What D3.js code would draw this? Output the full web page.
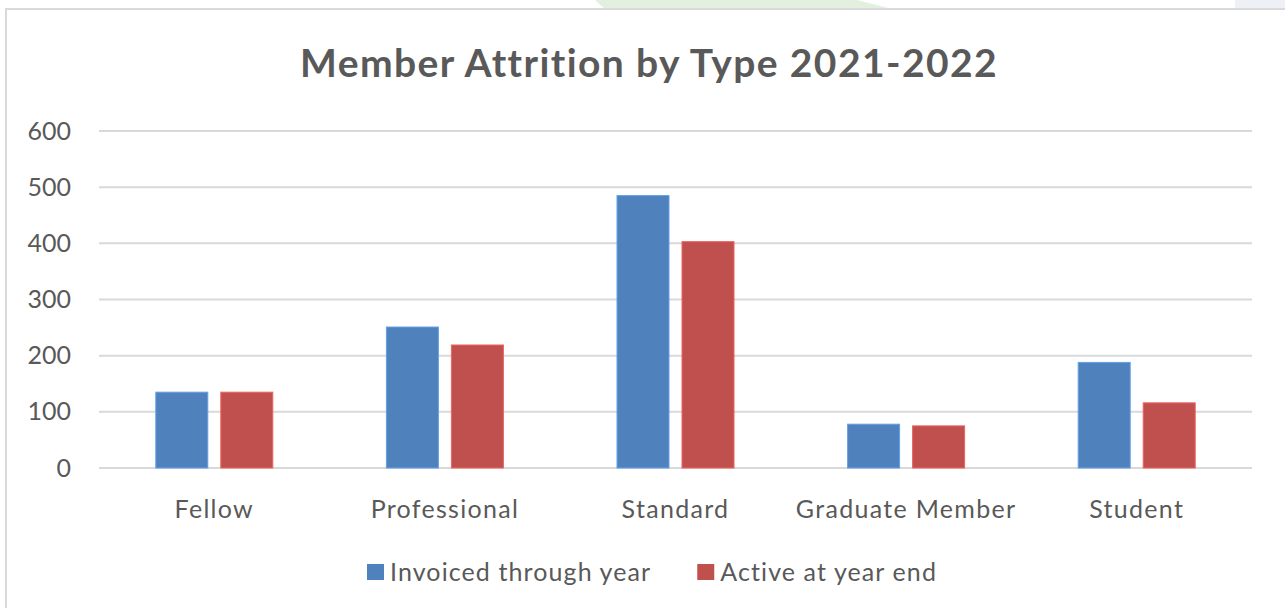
<!DOCTYPE html>
<html lang="en">
<head>
  <meta charset="utf-8">
  <script src="https://d3js.org/d3.v7.min.js"></script>
  <title>Member Attrition by Type 2021-2022</title>
  <style>
    body { margin: 0; background: #fff; }
    text { font-family: Lato, "Open Sans", sans-serif; fill: #595959; }
  </style>
</head>
<body>
<div id="chart"></div>
<script>
  // data
  const categories = ["Fellow", "Professional", "Standard", "Graduate Member", "Student"];
  const seriesNames = ["Invoiced through year", "Active at year end"];
  const invoiced = [135, 251, 485, 78, 188];
  const active = [135, 219, 403, 75, 116];
  const yTicks = [0, 100, 200, 300, 400, 500, 600];
  const colors = ["#4f81bd", "#c0504d"];

  const W = 1285, H = 608;
  const margin = { top: 131, right: 33, bottom: 140, left: 99 },
    width = W - margin.left - margin.right,
    height = H - margin.top - margin.bottom;

  const svg = d3.select("#chart")
    .append("svg")
    .attr("width", W)
    .attr("height", H);

  // background bits above the chart box
  svg.append("polygon")
    .attr("points", "595,0 857,0 892,9 605,9")
    .style("fill", "#e3efdf");
  svg.append("rect")
    .attr("x", 1235).attr("y", 0).attr("width", 50).attr("height", 8)
    .style("fill", "#eef0f5");

  // chart box border
  svg.append("rect")
    .attr("x", 6).attr("y", 9).attr("width", W + 10).attr("height", H + 10)
    .style("fill", "#fff")
    .style("stroke", "#d9d9d9")
    .style("stroke-width", 2);

  // title
  svg.append("text")
    .attr("x", 649)
    .attr("y", 77)
    .attr("text-anchor", "middle")
    .style("font-size", "39px")
    .style("font-weight", "bold")
    .style("letter-spacing", "1.4px")
    .text("Member Attrition by Type 2021-2022");

  const g = svg.append("g")
    .attr("transform", `translate(${margin.left},${margin.top})`);

  // scales
  const x0 = d3.scaleBand()
    .domain(categories)
    .range([0, width])
    .paddingInner(0.4926)
    .paddingOuter(0.2463);

  const x1 = d3.scaleBand()
    .domain(seriesNames)
    .range([0, x0.bandwidth()])
    .paddingInner(0.2);

  const y = d3.scaleLinear()
    .domain([0, 600])
    .range([height, 0]);

  // gridlines
  g.append("g")
    .selectAll("line")
    .data(yTicks)
    .join("line")
    .attr("x1", 0)
    .attr("x2", width)
    .attr("y1", d => y(d))
    .attr("y2", d => y(d))
    .style("stroke", "#d9d9d9")
    .style("stroke-width", 2);

  // y axis labels
  const yAxis = g.append("g")
    .call(d3.axisLeft(y).tickValues(yTicks).tickSize(0).tickPadding(28));
  yAxis.select(".domain").remove();
  yAxis.selectAll("text")
    .style("font-size", "25px")
    .style("fill", "#595959")
    .style("font-family", "Lato, 'Open Sans', sans-serif");

  // x axis labels
  const xAxis = g.append("g")
    .attr("transform", `translate(0,${height})`)
    .call(d3.axisBottom(x0).tickSize(0).tickPadding(32));
  xAxis.select(".domain").remove();
  xAxis.selectAll("text")
    .style("font-size", "25px")
    .style("letter-spacing", "1.3px")
    .style("fill", "#595959")
    .style("font-family", "Lato, 'Open Sans', sans-serif");

  // bars
  const rows = categories.map((c, i) => ({ cat: c, values: [invoiced[i], active[i]] }));

  g.selectAll(".grp")
    .data(rows)
    .join("g")
    .attr("class", "grp")
    .attr("transform", d => `translate(${x0(d.cat)},0)`)
    .selectAll("rect")
    .data(d => d.values.map((v, j) => ({ key: seriesNames[j], value: v, j: j })))
    .join("rect")
    .attr("x", d => x1(d.key))
    .attr("y", d => y(d.value))
    .attr("width", x1.bandwidth())
    .attr("height", d => y(0) - y(d.value))
    .style("fill", d => colors[d.j])
    .style("stroke", d => d3.color(colors[d.j]).brighter(0.6))
    .style("stroke-width", 1);

  // legend
  const legend = svg.append("g");
  let lx = 0;
  seriesNames.forEach((name, i) => {
    const item = legend.append("g").attr("transform", `translate(${lx},0)`);
    item.append("rect")
      .attr("x", 0).attr("y", 564)
      .attr("width", 17).attr("height", 16)
      .style("fill", colors[i]);
    const t = item.append("text")
      .attr("x", 23).attr("y", 581)
      .style("font-size", "25px")
      .style("letter-spacing", "1.1px")
      .text(name);
    lx += 23 + t.node().getComputedTextLength() + 46;
  });
  const legendW = lx - 46;
  legend.attr("transform", `translate(${652 - legendW / 2},0)`);
</script>
</body>
</html>
